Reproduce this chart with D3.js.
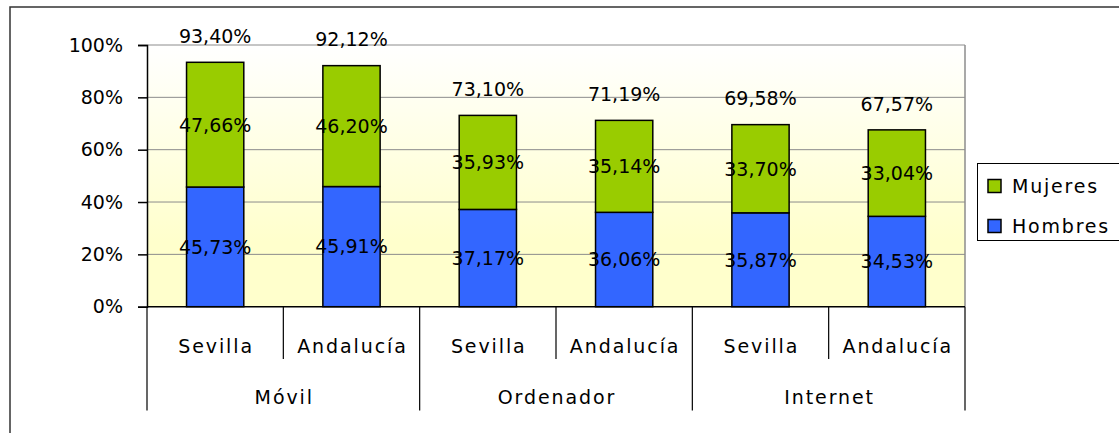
<!DOCTYPE html>
<html>
<head>
<meta charset="utf-8">
<script src="https://cdn.jsdelivr.net/npm/d3@7"></script>
<style>
  html, body { margin: 0; padding: 0; background: #fff; }
  svg { display: block; }
  text { font-family: "DejaVu Sans", Verdana, sans-serif; fill: #000; }
</style>
</head>
<body>
<svg id="chart" width="1119" height="433"></svg>
<script>
// ---- data ----
const categories = ["Sevilla", "Andalucía", "Sevilla", "Andalucía", "Sevilla", "Andalucía"];
const groups = ["Móvil", "Ordenador", "Internet"];
const hombres = [45.73, 45.91, 37.17, 36.06, 35.87, 34.53];
const mujeres = [47.66, 46.20, 35.93, 35.14, 33.70, 33.04];
const totals = [93.40, 92.12, 73.10, 71.19, 69.58, 67.57];
const yTicks = [0, 20, 40, 60, 80, 100];
const seriesNames = ["Mujeres", "Hombres"];
const colors = { Mujeres: "#99CC00", Hombres: "#3366FF" };

const svg = d3.select("#chart");
const W = 1119, H = 433;
const plot = { left: 147, right: 965, top: 45, bottom: 306.7 };

// outer chart border
svg.append("rect").attr("x", 10).attr("y", 7).attr("width", W + 20).attr("height", H + 20)
  .attr("fill", "#fff").attr("stroke", "#333").attr("stroke-width", 1.5);

const defs = svg.append("defs");
const grad = defs.append("linearGradient").attr("id", "bg").attr("x1", 0).attr("y1", 0).attr("x2", 0).attr("y2", 1);
grad.append("stop").attr("offset", "0%").attr("stop-color", "#FFFFFF");
grad.append("stop").attr("offset", "75%").attr("stop-color", "#FFFFCC");
grad.append("stop").attr("offset", "100%").attr("stop-color", "#FFFFCC");

const idx = d3.range(categories.length);
const x = d3.scaleBand().domain(idx).range([plot.left, plot.right]).paddingInner(0.58).paddingOuter(0.29);
const y = d3.scaleLinear().domain([0, 100]).range([plot.bottom, plot.top]);

// plot background
svg.append("rect").attr("x", plot.left).attr("y", plot.top)
  .attr("width", plot.right - plot.left).attr("height", plot.bottom - plot.top)
  .attr("fill", "url(#bg)");

// gridlines
svg.append("g").selectAll("line").data(yTicks.filter(t => t > 0)).join("line")
  .attr("x1", plot.left).attr("x2", plot.right)
  .attr("y1", d => y(d)).attr("y2", d => y(d))
  .attr("stroke", "#8c8c8c").attr("stroke-width", 1);
// right border of plot
svg.append("line").attr("x1", plot.right).attr("x2", plot.right).attr("y1", plot.top).attr("y2", plot.bottom)
  .attr("stroke", "#8c8c8c").attr("stroke-width", 1.5);

// stacked bars
const fmt = v => v.toFixed(2).replace(".", ",") + "%";
const stackData = idx.map(i => ({ i, Hombres: hombres[i], Mujeres: mujeres[i] }));
const stack = d3.stack().keys(["Hombres", "Mujeres"])(stackData);
const gBars = svg.append("g");
stack.forEach(layer => {
  gBars.append("g").selectAll("rect").data(layer).join("rect")
    .attr("x", d => x(d.data.i))
    .attr("width", x.bandwidth())
    .attr("y", d => y(d[1]))
    .attr("height", d => y(d[0]) - y(d[1]))
    .attr("fill", colors[layer.key])
    .attr("stroke", "#000").attr("stroke-width", 1.5);
});
// segment labels
stack.forEach(layer => {
  svg.append("g").selectAll("text").data(layer).join("text")
    .attr("x", d => x(d.data.i) + x.bandwidth() / 2)
    .attr("y", d => y((d[0] + d[1]) / 2))
    .attr("dy", "0.36em")
    .attr("text-anchor", "middle")
    .attr("font-size", 19)
    .text(d => fmt(d.data[layer.key]));
});
// total labels
svg.append("g").selectAll("text").data(idx).join("text")
  .attr("x", i => x(i) + x.bandwidth() / 2)
  .attr("y", i => y(totals[i]) - 26)
  .attr("dy", "0.36em")
  .attr("text-anchor", "middle")
  .attr("font-size", 19)
  .text(i => fmt(totals[i]));

// y axis
const yAxis = d3.axisLeft(y).tickValues(yTicks).tickFormat(d => d + "%").tickSize(9).tickPadding(15);
const gy = svg.append("g").attr("transform", `translate(${plot.left},0)`).call(yAxis);
gy.select(".domain").attr("stroke", "#000").attr("stroke-width", 1.5);
gy.selectAll(".tick line").attr("stroke", "#000").attr("stroke-width", 1.5);
gy.selectAll(".tick text").attr("font-size", 19).attr("font-family", "DejaVu Sans").attr("fill", "#000");

// category axis (two levels)
const gx = svg.append("g");
const step = x.step();
gx.append("line").attr("x1", plot.left).attr("x2", plot.right).attr("y1", plot.bottom).attr("y2", plot.bottom)
  .attr("stroke", "#000").attr("stroke-width", 1.5);
// separators
const boundaries = d3.range(categories.length + 1).map(k => ({
  k, xp: plot.left + x.paddingOuter() * step - x.paddingInner() * step / 2 + k * step
}));
gx.selectAll("line.sep").data(boundaries).join("line").attr("class", "sep")
  .attr("x1", d => d.xp).attr("x2", d => d.xp)
  .attr("y1", plot.bottom)
  .attr("y2", d => d.k % 2 === 0 ? 410.5 : 359)
  .attr("stroke", "#000").attr("stroke-width", 1.2);
const ls = 1.9;
gx.selectAll("text.cat").data(idx).join("text").attr("class", "cat")
  .attr("x", i => x(i) + x.bandwidth() / 2 + ls / 2)
  .attr("y", 346).attr("dy", "0.36em")
  .attr("text-anchor", "middle").attr("font-size", 19)
  .attr("letter-spacing", ls)
  .text(i => categories[i]);
gx.selectAll("text.grp").data(groups).join("text").attr("class", "grp")
  .attr("x", (g, j) => (x(2 * j) + x(2 * j + 1) + x.bandwidth()) / 2 + ls / 2)
  .attr("y", 397).attr("dy", "0.36em")
  .attr("text-anchor", "middle").attr("font-size", 19)
  .attr("letter-spacing", ls)
  .text(g => g);

// legend
const lg = svg.append("g");
lg.append("rect").attr("x", 977.5).attr("y", 163.5).attr("width", 160).attr("height", 77)
  .attr("fill", "#fff").attr("stroke", "#000").attr("stroke-width", 1);
seriesNames.forEach((s, k) => {
  const cy = 186 + k * 40;
  lg.append("rect").attr("x", 988).attr("y", cy - 6.5).attr("width", 13).attr("height", 13)
    .attr("fill", colors[s]).attr("stroke", "#000").attr("stroke-width", 1.5);
  lg.append("text").attr("x", 1012).attr("y", cy).attr("dy", "0.36em")
    .attr("font-size", 19).attr("letter-spacing", 1.8).text(s);
});
</script>
</body>
</html>
